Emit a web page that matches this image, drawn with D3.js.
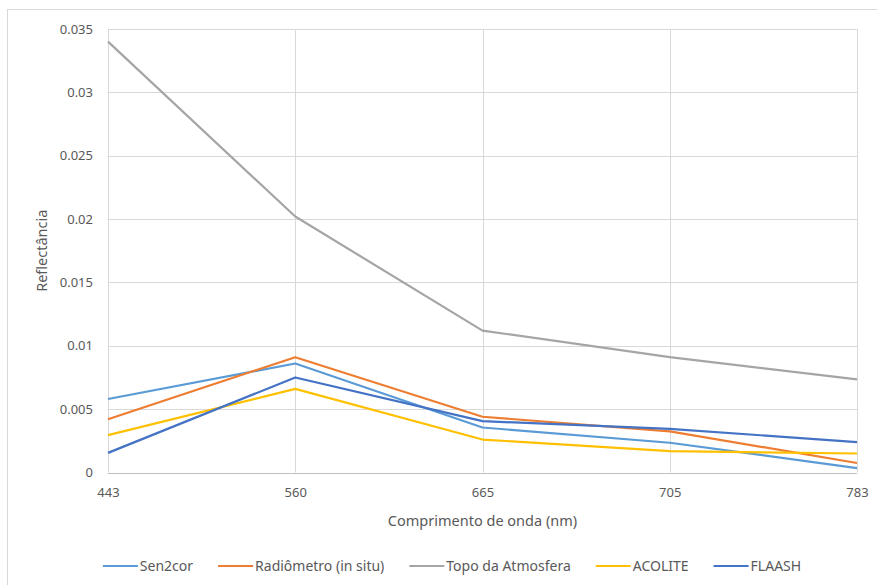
<!DOCTYPE html>
<html>
<head>
<meta charset="utf-8">
<script src="https://cdn.jsdelivr.net/npm/d3@7"></script>
<style>
  body { margin: 0; background: #fff; }
  text { font-family: "Noto Sans", "Open Sans", sans-serif; fill: #595959; }
</style>
</head>
<body>
<svg id="chart" width="877" height="585"></svg>
<script>
// data
var bands = ["443", "560", "665", "705", "783"];
var sen2cor = [0.0058, 0.0086, 0.00355, 0.00235, 0.00035];
var radiometro = [0.0042, 0.0091, 0.0044, 0.00325, 0.00075];
var topo = [0.0340, 0.0202, 0.0112, 0.0091, 0.00735];
var acolite = [0.00295, 0.0066, 0.0026, 0.00168, 0.0015];
var flaash = [0.00155, 0.0075, 0.00405, 0.00345, 0.0024];
var yTicks = [0, 0.005, 0.01, 0.015, 0.02, 0.025, 0.03, 0.035];

var series = [
    {name: "Sen2cor", values: sen2cor, color: "#5B9BD5"},
    {name: "Radiômetro (in situ)", values: radiometro, color: "#ED7D31"},
    {name: "Topo da Atmosfera", values: topo, color: "#A5A5A5"},
    {name: "ACOLITE", values: acolite, color: "#FFC000"},
    {name: "FLAASH", values: flaash, color: "#4472C4"}
];

var svg = d3.select("#chart"),
    pLeft = 108, pRight = 857, pTop = 29, pBottom = 472.5,
    gridCol = "#d9d9d9";

// outer chart border
svg.append("rect")
    .attr("x", 7.5).attr("y", 9.5)
    .attr("width", 900).attr("height", 600)
    .attr("fill", "#fff").attr("stroke", gridCol);

var x = d3.scalePoint().domain(bands).range([pLeft, pRight]),
    y = d3.scaleLinear().domain([0, 0.035]).range([pBottom, pTop]);

// horizontal grid
svg.append("g").selectAll("line")
    .data(yTicks)
    .enter().append("line")
    .attr("x1", pLeft).attr("x2", pRight)
    .attr("y1", d => Math.round(y(d)) + 0.5).attr("y2", d => Math.round(y(d)) + 0.5)
    .attr("stroke", gridCol).attr("stroke-width", 1);

// vertical grid
svg.append("g").selectAll("line")
    .data(bands)
    .enter().append("line")
    .attr("x1", d => Math.round(x(d)) + 0.5).attr("x2", d => Math.round(x(d)) + 0.5)
    .attr("y1", pTop).attr("y2", pBottom)
    .attr("stroke", gridCol).attr("stroke-width", 1);

// y axis labels
var yAxis = d3.axisLeft(y).tickValues(yTicks).tickSize(0).tickPadding(15)
    .tickFormat(d => d === 0 ? "0" : String(+d.toFixed(3)));
var gy = svg.append("g").attr("transform", "translate(" + pLeft + ",0)").call(yAxis);
gy.select(".domain").remove();
gy.selectAll("text").style("font-size", "13px").attr("fill", "#595959");

// x axis
var xAxis = d3.axisBottom(x).tickSize(0).tickPadding(14);
var gx = svg.append("g").attr("transform", "translate(0," + (Math.round(pBottom) + 0.5) + ")").call(xAxis);
gx.select(".domain").attr("stroke", "#bfbfbf").attr("d", "M" + pLeft + ",0H" + pRight);
gx.selectAll("text").style("font-size", "13px").attr("fill", "#595959");

// axis titles
svg.append("text")
    .attr("x", (pLeft + pRight) / 2).attr("y", 526)
    .attr("text-anchor", "middle")
    .style("font-size", "14.5px")
    .text("Comprimento de onda (nm)");

svg.append("text")
    .attr("transform", "translate(47," + ((pTop + pBottom) / 2) + ") rotate(-90)")
    .attr("text-anchor", "middle")
    .style("font-size", "14.5px")
    .text("Reflectância");

// lines
var line = d3.line()
    .x((d, i) => x(bands[i]))
    .y(d => y(d));

svg.append("g").selectAll("path")
    .data(series)
    .enter().append("path")
    .attr("d", d => line(d.values))
    .attr("fill", "none")
    .attr("stroke", d => d.color)
    .attr("stroke-width", 2.2)
    .attr("stroke-linejoin", "round");

// legend, laid out from measured text widths
var legend = svg.append("g"),
    swatch = 35, gapText = 2, gapItem = 25, ly = 566;
var items = legend.selectAll("g")
    .data(series)
    .enter().append("g");
items.append("line")
    .attr("x1", 0).attr("x2", swatch)
    .attr("y1", 0).attr("y2", 0)
    .attr("stroke", d => d.color).attr("stroke-width", 2.2);
items.append("text")
    .attr("x", swatch + gapText).attr("y", 0)
    .attr("dy", "0.35em")
    .style("font-size", "14px")
    .text(d => d.name);

var pos = 0, offs = [];
items.each(function () {
    offs.push(pos);
    var w = d3.select(this).select("text").node().getComputedTextLength();
    pos += swatch + gapText + w + gapItem;
});
var total = pos - gapItem,
    start = 452 - total / 2;
items.attr("transform", (d, i) => "translate(" + (start + offs[i]) + "," + ly + ")");
</script>
</body>
</html>
